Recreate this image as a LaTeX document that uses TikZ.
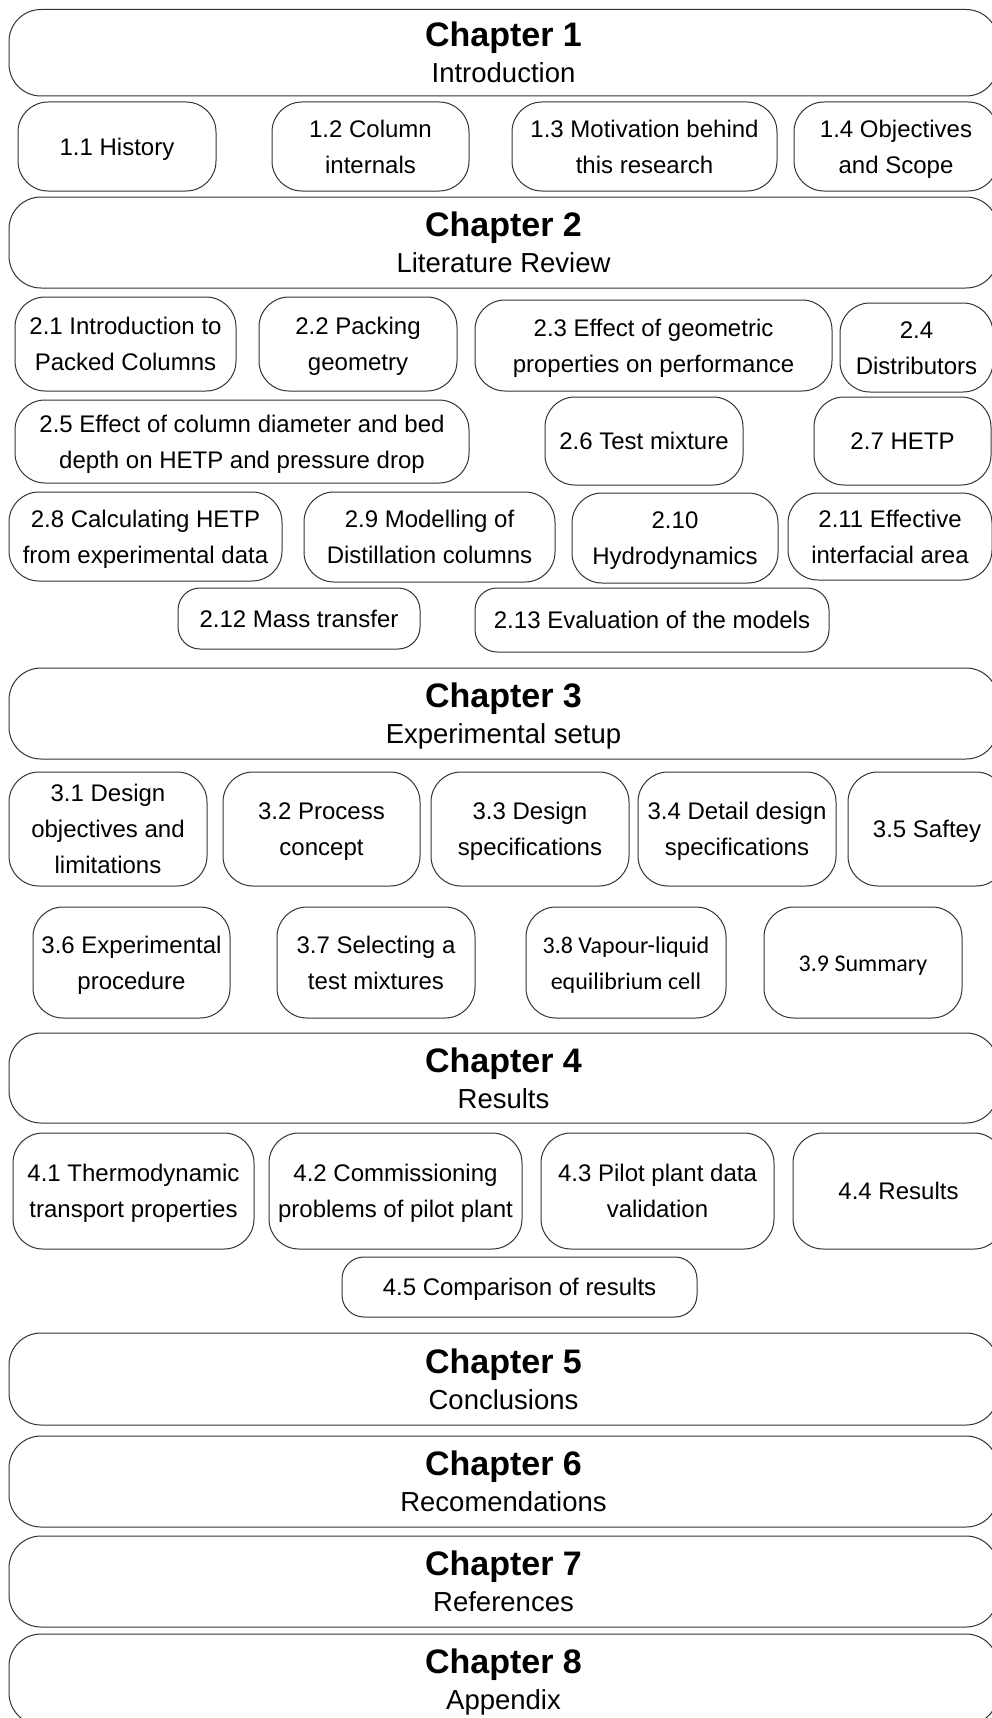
\documentclass[tikz,border=0pt]{standalone}
\usepackage{fontspec}
\setmainfont{Liberation Sans}
\newfontfamily\califont{Carlito}
\newcommand\sta{\rule{0pt}{22.4pt}}
\newcommand\stb{\rule[-5.2pt]{0pt}{5.2pt}}
\tikzset{
  boxbase/.style={draw=black!80, line width=1pt, fill=white, inner sep=0pt, align=center,
    font=\fontsize{24}{36}\selectfont},
  sub/.style={boxbase, rounded corners=30pt},
  subsmall/.style={boxbase, rounded corners=22pt},
  chap/.style={boxbase, rounded corners=32pt},
}
% [opts]{name}{x1}{y1}{x2}{y2}{text}
\newcommand\mkbox[7][sub]{%
  \node[#1, minimum width={#5pt-#3pt}, minimum height={#6pt-#4pt}]
    (#2) at ({(#3+#5)/2},{(#4+#6)/2}) {\sta#7\stb};}
% {name}{y1}{y2}{num}{title}
\newcommand\mkchap[5]{%
  \node[chap, minimum width=989pt, minimum height={#3pt-#2pt}]
    (#1) at (503.5,{(#2+#3)/2})
    {\rule{0pt}{30pt}{\bfseries\fontsize{34}{36}\selectfont Chapter #4}\\
     {\fontsize{27.5}{36}\selectfont #5\rule[-6pt]{0pt}{6pt}}};}
\begin{document}
\begin{tikzpicture}[x=1pt,y=-1pt]
\path[use as bounding box] (0,0) rectangle (992,1718);
\clip (0,0) rectangle (992,1718);
\fill[white] (0,0) rectangle (992,1718);

\mkchap{c1}{9.5}{96}{1}{Introduction}
\mkbox{n11}{18}{102}{216}{191}{1.1 History}
\mkbox{n12}{272}{102}{469}{191}{1.2 Column\\internals}
\mkbox{n13}{512}{102}{777}{191}{1.3 Motivation behind\\this research}
\mkbox{n14}{794}{102}{998}{191}{1.4 Objectives\\and Scope}

\mkchap{c2}{197}{288}{2}{Literature Review}
\mkbox{n21}{15}{297}{236}{391}{2.1 Introduction to\\Packed Columns}
\mkbox{n22}{259}{297}{457}{391}{2.2 Packing\\geometry}
\mkbox{n23}{475}{300}{832}{391}{2.3 Effect of geometric\\properties on performance}
\mkbox{n24}{840}{303}{993}{392}{2.4\\Distributors}
\mkbox{n25}{15}{400}{469}{483}{2.5 Effect of column diameter and bed\\depth on HETP and pressure drop}
\mkbox{n26}{545}{397}{743}{485}{2.6 Test mixture}
\mkbox{n27}{814}{397}{991}{485}{2.7 HETP}
\mkbox{n28}{9}{492}{282}{581}{2.8 Calculating HETP\\from experimental data}
\mkbox{n29}{304}{492}{555}{582}{2.9 Modelling of\\Distillation columns}
\mkbox{n210}{572}{493}{778}{583}{2.10\\Hydrodynamics}
\mkbox{n211}{788}{493}{992}{580}{2.11 Effective\\interfacial area}
\mkbox[subsmall]{n212}{178}{588}{420}{649}{2.12 Mass transfer}
\mkbox[subsmall]{n213}{475}{588}{829}{652}{2.13 Evaluation of the models}

\mkchap{c3}{668}{759}{3}{Experimental setup}
\mkbox{n31}{9}{772}{207}{886}{3.1 Design\\objectives and\\limitations}
\mkbox{n32}{223}{772}{420}{886}{3.2 Process\\concept}
\mkbox{n33}{431}{772}{629}{886}{3.3 Design\\specifications}
\mkbox{n34}{638}{772}{836}{886}{3.4 Detail design\\specifications}
\mkbox{n35}{848}{772}{1006}{886}{3.5 Saftey}
\mkbox{n36}{33}{907}{230}{1018}{3.6 Experimental\\procedure}
\mkbox{n37}{277}{907}{475}{1018}{3.7 Selecting a\\test mixtures}
\mkbox{n38}{526}{907}{726}{1018}{{\califont 3.8 Vapour-liquid}\\{\califont equilibrium cell}}
\mkbox{n39}{764}{907}{962}{1018}{{\califont 3.9 Summary}}

\mkchap{c4}{1033}{1123}{4}{Results}
\mkbox{n41}{13}{1133}{254}{1249}{4.1 Thermodynamic\\transport properties}
\mkbox{n42}{269}{1133}{522}{1249}{4.2 Commissioning\\problems of pilot plant}
\mkbox{n43}{541}{1133}{774}{1249}{4.3 Pilot plant data\\validation}
\mkbox{n44}{793}{1133}{1004}{1249}{4.4 Results}
\mkbox[subsmall]{n45}{342}{1257}{697}{1317}{4.5 Comparison of results}

\mkchap{c5}{1333}{1425}{5}{Conclusions}
\mkchap{c6}{1436}{1527}{6}{Recomendations}
\mkchap{c7}{1536}{1627}{7}{References}
\mkchap{c8}{1634}{1725}{8}{Appendix}
\end{tikzpicture}
\end{document}
